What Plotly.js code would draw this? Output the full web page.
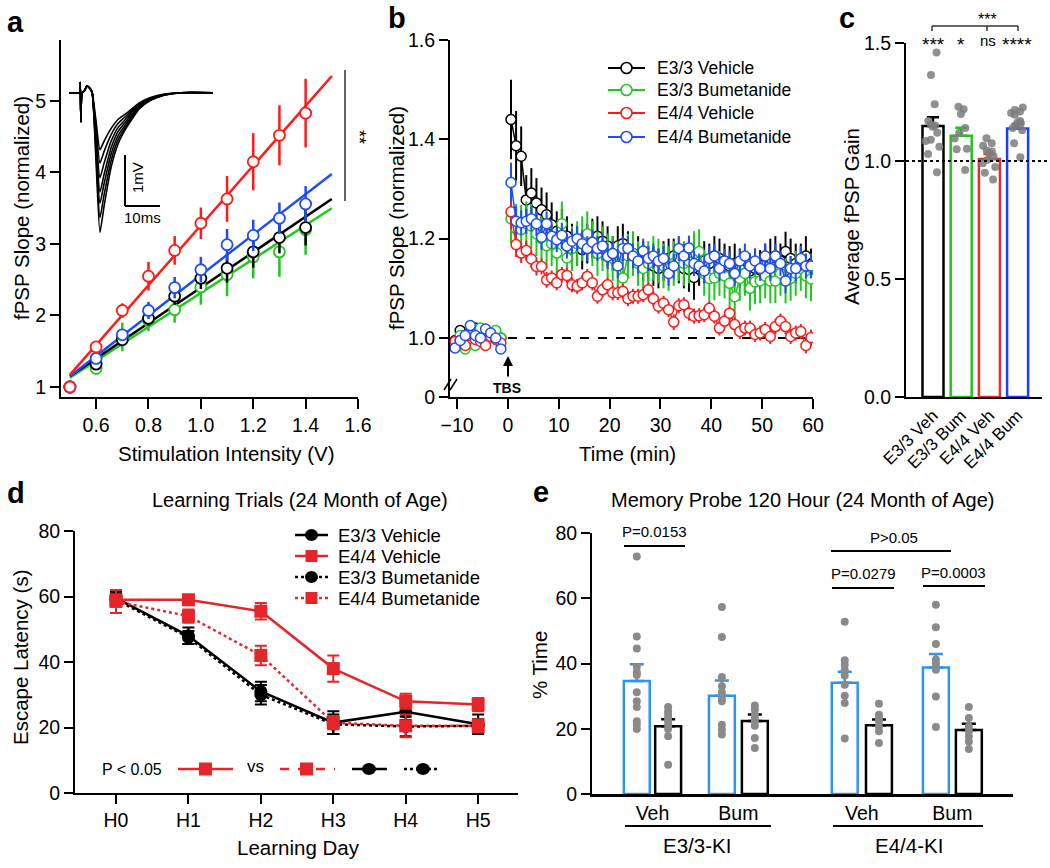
<!DOCTYPE html>
<html><head><meta charset="utf-8">
<script src="https://cdn.plot.ly/plotly-3.0.1.min.js"></script>
<style>html,body{margin:0;padding:0;background:#fff}#chart{width:1050px;height:868px}</style>
</head><body><div id="chart"></div>
<script>
// ================= DATA =================
// ---- Panel a: input/output ----
const stimV = [0.5,0.6,0.7,0.8,0.9,1.0,1.1,1.2,1.3,1.4];
const aE33Veh    = [1.0,1.32,1.66,1.96,2.27,2.52,2.66,2.89,3.09,3.23];
const aE33VehErr = [0,0.05,0.08,0.10,0.12,0.15,0.20,0.22,0.22,0.25];
const aE33Bum    = [1.0,1.26,1.70,1.93,2.08,2.40,2.57,2.82,2.89,3.20];
const aE33BumErr = [0,0.05,0.20,0.15,0.18,0.25,0.30,0.30,0.35,0.35];
const aE44Veh    = [1.0,1.56,2.07,2.55,2.91,3.29,3.63,4.15,4.52,4.83];
const aE44VehErr = [0,0.05,0.10,0.20,0.20,0.22,0.32,0.40,0.42,0.48];
const aE44Bum    = [1.0,1.40,1.73,2.07,2.39,2.64,2.99,3.12,3.36,3.56];
const aE44BumErr = [0,0.05,0.08,0.12,0.15,0.18,0.22,0.22,0.22,0.25];
const fitV = [0.5, 1.5];
const fitE33Veh = [1.15, 3.63];
const fitE33Bum = [1.13, 3.50];
const fitE44Veh = [1.17, 5.35];
const fitE44Bum = [1.15, 3.98];
// inset fEPSP sweeps (ms, mV)
const insetT = [0,3.0,3.2,3.4,3.7,4.5,5.1,6.0,6.6,7.6,8.8,10,12,14,16.4,20,23,27,32,41];
const sweep1 = [0,0,0.2,-0.57,0,0.05,0.13,0.08,0,-0.50,-1.12,-0.95,-0.70,-0.52,-0.40,-0.20,-0.10,-0.03,0,0];
const sweep2 = [0,0,0.2,-0.57,0,0.05,0.13,0.08,0,-0.60,-1.38,-1.15,-0.82,-0.60,-0.45,-0.22,-0.11,-0.03,0,0];
const sweep3 = [0,0,0.2,-0.57,0,0.05,0.13,0.08,0,-0.72,-1.67,-1.38,-0.95,-0.68,-0.50,-0.24,-0.12,-0.04,0,0];
const sweep4 = [0,0,0.2,-0.57,0,0.05,0.13,0.08,0,-0.85,-1.95,-1.60,-1.08,-0.76,-0.55,-0.26,-0.13,-0.04,0,0];
const sweep5 = [0,0,0.2,-0.57,0,0.05,0.13,0.08,0,-0.95,-2.17,-1.78,-1.20,-0.84,-0.60,-0.28,-0.14,-0.05,0,0];
const sweep6 = [0,0,0.2,-0.57,0,0.05,0.13,0.08,0,-1.07,-2.45,-2.00,-1.33,-0.92,-0.64,-0.30,-0.15,-0.05,0,0];
const sweep7 = [0,0,0.2,-0.57,0,0.05,0.13,0.08,0,-1.20,-2.74,-2.22,-1.46,-1.00,-0.68,-0.32,-0.16,-0.05,0,0];

// ---- Panel b: LTP time course ----
const bNames = ['E3/3 Vehicle','E3/3 Bumetanide','E4/4 Vehicle','E4/4 Bumetanide'];
const tPre = [-10.4,-9.4,-8.4,-7.4,-6.4,-5.4,-4.4,-3.4,-2.4,-1.4];
const tPost = [0.6,1.6,2.6,3.6,4.6,5.6,6.6,7.6,8.6,9.6,10.6,11.6,12.6,13.6,14.6,15.6,16.6,17.6,18.6,19.6,
  20.6,21.6,22.6,23.6,24.6,25.6,26.6,27.6,28.6,29.6,30.6,31.6,32.6,33.6,34.6,35.6,36.6,37.6,38.6,39.6,
  40.6,41.6,42.6,43.6,44.6,45.6,46.6,47.6,48.6,49.6,50.6,51.6,52.6,53.6,54.6,55.6,56.6,57.6,58.6,59.6];
const bE33VehPre = [0.995,1.015,1.005,1.01,1.02,1.005,1.0,1.01,1.005,1.0];
const bE33BumPre = [0.99,1.005,0.978,1.01,0.985,1.02,1.0,1.005,1.015,1.0];
const bE44VehPre = [0.993,0.995,0.985,1.005,0.997,0.993,0.985,1.003,0.997,0.99];
const bE44BumPre = [0.98,0.995,1.005,1.025,1.005,1.0,1.018,1.01,1.0,0.978];
const bPreErr = [0.008,0.008,0.008,0.008,0.008,0.008,0.008,0.008,0.008,0.008];
const bE33VehPost = [1.44,1.387,1.366,1.278,1.292,1.272,1.258,1.248,1.228,1.215,
  1.22,1.205,1.19,1.185,1.178,1.19,1.2,1.205,1.195,1.185,
  1.17,1.185,1.19,1.18,1.17,1.165,1.155,1.15,1.145,1.14,
  1.155,1.16,1.165,1.15,1.14,1.138,1.122,1.145,1.155,1.15,
  1.165,1.16,1.155,1.145,1.15,1.14,1.13,1.135,1.14,1.137,
  1.15,1.16,1.165,1.155,1.174,1.16,1.15,1.155,1.165,1.14];
const bE33VehPostErr = [0.08,0.07,0.06,0.05,0.05,0.05,0.045,0.045,0.045,0.04,
  0.04,0.04,0.04,0.04,0.04,0.04,0.04,0.04,0.04,0.04,
  0.035,0.04,0.04,0.035,0.035,0.04,0.04,0.035,0.04,0.04,
  0.04,0.04,0.035,0.04,0.04,0.045,0.045,0.04,0.04,0.04,
  0.04,0.04,0.035,0.04,0.04,0.04,0.04,0.035,0.04,0.04,
  0.04,0.04,0.04,0.035,0.04,0.04,0.04,0.035,0.04,0.04];
const bE33BumPost = [1.24,1.22,1.218,1.23,1.225,1.21,1.2,1.186,1.19,1.171,
  1.23,1.161,1.18,1.19,1.2,1.21,1.19,1.17,1.18,1.165,
  1.16,1.15,1.121,1.165,1.17,1.15,1.14,1.15,1.16,1.155,
  1.145,1.14,1.15,1.16,1.15,1.155,1.17,1.174,1.13,1.12,
  1.121,1.13,1.125,1.11,1.083,1.12,1.13,1.10,1.113,1.115,
  1.125,1.115,1.115,1.13,1.115,1.12,1.13,1.14,1.125,1.119];
const bE33BumPostErr = [0.05,0.05,0.05,0.045,0.045,0.045,0.045,0.045,0.045,0.045,
  0.045,0.045,0.045,0.045,0.045,0.045,0.045,0.045,0.045,0.045,
  0.045,0.045,0.04,0.045,0.045,0.045,0.045,0.045,0.045,0.045,
  0.045,0.045,0.045,0.045,0.045,0.045,0.045,0.045,0.045,0.045,
  0.045,0.045,0.045,0.045,0.045,0.045,0.045,0.045,0.045,0.045,
  0.045,0.045,0.045,0.045,0.045,0.045,0.045,0.045,0.045,0.045];
const bE44VehPost = [1.254,1.188,1.171,1.176,1.159,1.144,1.144,1.117,1.121,1.111,
  1.128,1.126,1.107,1.104,1.111,1.124,1.111,1.084,1.097,1.107,
  1.091,1.091,1.094,1.079,1.084,1.084,1.087,1.097,1.079,1.064,
  1.07,1.057,1.032,1.065,1.067,1.05,1.044,1.045,1.047,1.06,
  1.044,1.02,1.034,1.05,1.027,1.013,1.02,1.02,1.007,1.01,
  1.017,1.003,1.023,1.034,1.023,1.003,1.01,1.013,0.985,1.001];
const bE44VehPostErr = [0.035,0.025,0.02,0.02,0.018,0.018,0.016,0.016,0.015,0.015,
  0.015,0.015,0.015,0.015,0.015,0.015,0.015,0.015,0.015,0.015,
  0.015,0.015,0.015,0.015,0.015,0.015,0.015,0.015,0.015,0.015,
  0.015,0.015,0.016,0.015,0.015,0.015,0.015,0.015,0.015,0.015,
  0.015,0.015,0.015,0.015,0.015,0.015,0.015,0.015,0.015,0.015,
  0.015,0.015,0.015,0.015,0.015,0.015,0.015,0.015,0.016,0.016];
const bE44BumPost = [1.313,1.235,1.232,1.235,1.24,1.23,1.203,1.23,1.205,1.198,
  1.207,1.185,1.195,1.2,1.19,1.18,1.193,1.18,1.185,1.164,
  1.17,1.145,1.18,1.18,1.165,1.155,1.175,1.16,1.165,1.155,
  1.16,1.13,1.145,1.18,1.165,1.181,1.15,1.145,1.135,1.16,
  1.165,1.14,1.155,1.15,1.13,1.155,1.165,1.145,1.155,1.14,
  1.165,1.14,1.165,1.15,1.115,1.14,1.14,1.16,1.145,1.145];
const bE44BumPostErr = [0.04,0.03,0.025,0.025,0.025,0.025,0.025,0.025,0.025,0.025,
  0.025,0.025,0.025,0.025,0.025,0.025,0.025,0.025,0.025,0.025,
  0.025,0.025,0.025,0.025,0.025,0.025,0.025,0.025,0.025,0.025,
  0.025,0.025,0.025,0.025,0.025,0.025,0.025,0.025,0.025,0.025,
  0.025,0.025,0.025,0.025,0.025,0.025,0.025,0.025,0.025,0.025,
  0.025,0.025,0.025,0.025,0.025,0.025,0.025,0.025,0.025,0.025];

// ---- Panel c: average fPSP gain ----
const cGroups = ['E3/3 Veh','E3/3 Bum','E4/4 Veh','E4/4 Bum'];
const cMeans = [1.148, 1.107, 1.008, 1.138];
const cSEM   = [0.037, 0.034, 0.022, 0.019];
const cDotsE33Veh = [1.46,1.364,1.24,1.17,1.155,1.15,1.145,1.12,1.09,1.085,1.06,1.03,0.952];
const cDotsE33Bum = [1.23,1.219,1.199,1.14,1.12,1.095,1.052,1.05,0.962];
const cDotsE44Veh = [1.096,1.075,1.065,1.045,1.04,1.035,1.02,1.005,0.99,0.975,0.95,0.922];
const cDotsE44Bum = [1.227,1.216,1.21,1.203,1.196,1.17,1.162,1.16,1.15,1.14,1.13,1.075,1.016];
const cSig = ['***','*','ns','****'];

// ---- Panel d: learning trials ----
const dDays = ['H0','H1','H2','H3','H4','H5'];
const dNames = ['E3/3 Vehicle','E4/4 Vehicle','E3/3 Bumetanide','E4/4 Bumetanide'];
const dE33Veh    = [59.5,48,31,21.5,24.8,21];
const dE33VehErr = [2,2.5,3,3.5,2.5,3];
const dE44Veh    = [59,59,55.5,38,28,27];
const dE44VehErr = [1,1.2,2.5,4,2.3,2];
const dE33Bum    = [59,47.5,30,21,20.3,20.5];
const dE33BumErr = [2,2,3,3,3,2];
const dE44Bum    = [58.5,54,42,21.5,20.5,20.5];
const dE44BumErr = [3.5,2,3,2,3.5,2];

// ---- Panel e: memory probe ----
const eGroups = ['Veh','Bum','Veh','Bum'];
const eGenotypes = ['E3/3-KI','E4/4-KI'];
const eTarget    = [34.6,30.1,34.1,38.8];
const eTargetSEM = [5.2,4.7,3.4,4.1];
const eOther     = [20.8,22.4,21.1,19.6];
const eOtherSEM  = [2.1,2.0,1.7,1.9];
const eDotsE33VehT = [72.8,48.3,44.6,38.9,37.3,36.5,31.2,28.4,26.7,22.3,21.2,19.9];
const eDotsE33VehO = [26.7,25.3,24.3,23.3,22.3,21.2,19.9,17.7,9.0];
const eDotsE33BumT = [57.3,48.1,35.9,33.0,31.2,29.1,28.4,21.2,19.7,18.2];
const eDotsE33BumO = [27.1,26.0,24.3,23.3,22.3,20.9,17.2,14.1];
const eDotsE44VehT = [52.8,41.0,39.6,37.9,36.3,33.5,30.1,27.9,17.0];
const eDotsE44VehO = [27.7,24.3,23.3,22.3,20.7,19.2,15.6];
const eDotsE44BumT = [58.0,51.1,46.0,41.2,40.0,38.1,29.9,20.5];
const eDotsE44BumO = [26.7,23.3,20.7,19.2,17.7,16.1,13.8];
const ePvals = ['P=0.0153','P>0.05','P=0.0279','P=0.0003'];

// ================= LAYOUT HELPERS =================
const W = 1050, H = 868;
const F = 'Liberation Sans, Arial, Helvetica, sans-serif';
const X = v => v / W;
const Y = v => 1 - v / H;
const dX = (a, b) => [a / W, b / W];
const dY = (top, bot) => [1 - bot / H, 1 - top / H];
const COL = {black:'#000000', green:'#1ec81e', red:'#ff1a1a', blue:'#1f4cf5',
             cGreen:'#22c422', cRed:'#ef2a2a', cBlue:'#1c3ff5',
             dRed:'#e4262b', eBlue:'#2b95f0', gray:'#8a8a8a'};
const cPos = [1,2,3,4];
const eTargetPos = [1.40,4.06,7.90,10.75];
const eOtherPos  = [2.38,5.09,8.97,11.78];

const axBase = {showline:true, linecolor:'black', linewidth:2, ticks:'outside', ticklen:9,
  tickwidth:2, tickcolor:'black', tickfont:{family:F, size:19.5, color:'black'},
  showgrid:false, zeroline:false, fixedrange:true};

const traces = [];
// ---------- Panel a ----------
const aSeries = [
  [fitE33Bum, aE33Bum, aE33BumErr, COL.green],
  [fitE33Veh, aE33Veh, aE33VehErr, COL.black],
  [fitE44Bum, aE44Bum, aE44BumErr, COL.blue],
  [fitE44Veh, aE44Veh, aE44VehErr, COL.red]];
aSeries.forEach(s => traces.push({type:'scatter', mode:'lines', x:fitV, y:s[0], xaxis:'x', yaxis:'y',
  line:{color:s[3], width:2.5}, showlegend:false, hoverinfo:'skip'}));
aSeries.forEach(s => traces.push({type:'scatter', mode:'markers', x:stimV, y:s[1], xaxis:'x', yaxis:'y',
  marker:{symbol:'circle', size:11, color:'white', line:{color:s[3], width:1.8}},
  error_y:{type:'data', array:s[2], width:0, thickness:2.5, color:s[3]}, showlegend:false}));
[sweep1,sweep2,sweep3,sweep4,sweep5,sweep6,sweep7].forEach(sw => traces.push({type:'scatter', mode:'lines',
  x:insetT, y:sw, xaxis:'x2', yaxis:'y2', line:{color:'black', width:1.6, shape:'spline', smoothing:0.5},
  showlegend:false, hoverinfo:'skip'}));

// ---------- Panel b ----------
const bColors = [COL.black, COL.green, COL.red, COL.blue];
const bSeries = [
  [bE33VehPre, bE33VehPost, bE33VehPostErr],
  [bE33BumPre, bE33BumPost, bE33BumPostErr],
  [bE44VehPre, bE44VehPost, bE44VehPostErr],
  [bE44BumPre, bE44BumPost, bE44BumPostErr]];
bSeries.forEach((s, i) => {
  const mk = {symbol:'circle', size:10, color:'white', line:{color:bColors[i], width:1.5}};
  traces.push({type:'scatter', mode:'lines+markers', x:tPre, y:s[0], xaxis:'x3', yaxis:'y3',
    line:{color:bColors[i], width:1.5}, marker:mk,
    error_y:{type:'data', array:bPreErr, width:0, thickness:2, color:bColors[i]}, showlegend:false});
  traces.push({type:'scatter', mode:'lines+markers', name:bNames[i], x:tPost, y:s[1], xaxis:'x3', yaxis:'y3',
    line:{color:bColors[i], width:1.5}, marker:mk,
    error_y:{type:'data', array:s[2], width:0, thickness:2, color:bColors[i]}, showlegend:false});
});

// ---------- Panel c ----------
const cColors = [COL.black, COL.cGreen, COL.cRed, COL.cBlue];
cGroups.forEach((g, i) => traces.push({type:'bar', name:g, x:[cPos[i]], y:[cMeans[i]], xaxis:'x4', yaxis:'y4',
  width:0.745, marker:{color:'white', line:{color:cColors[i], width:2.5}},
  error_y:{type:'data', symmetric:false, array:[cSEM[i]], arrayminus:[0], width:6, thickness:2.5, color:cColors[i]},
  showlegend:false}));
[cDotsE33Veh, cDotsE33Bum, cDotsE44Veh, cDotsE44Bum].forEach((d, i) => traces.push({type:'box',
  y:d, x0:cPos[i], xaxis:'x4', yaxis:'y4', boxpoints:'all', jitter:0.9, pointpos:0, width:0.7,
  fillcolor:'rgba(0,0,0,0)', line:{color:'rgba(0,0,0,0)', width:0},
  marker:{color:'rgba(125,125,125,0.85)', size:8}, showlegend:false, hoveron:'points'}));

// ---------- Panel d ----------
const dXv = dDays.map((d, i) => i);
const dSeries = [
  [dE33Veh, dE33VehErr, 'black', 'solid', 'circle'],
  [dE33Bum, dE33BumErr, 'black', 'dot', 'circle'],
  [dE44Bum, dE44BumErr, COL.dRed, 'dot', 'square'],
  [dE44Veh, dE44VehErr, COL.dRed, 'solid', 'square']];
dSeries.forEach(s => traces.push({type:'scatter', mode:'lines+markers', x:dXv, y:s[0],
  xaxis:'x5', yaxis:'y5', line:{color:s[2], width:2.5, dash:s[3]},
  marker:{symbol:s[4], size:13, color:s[2]},
  error_y:{type:'data', array:s[1], width:6, thickness:2, color:s[2]}, showlegend:false}));

// ---------- Panel e ----------
traces.push({type:'bar', x:eTargetPos, y:eTarget, xaxis:'x6', yaxis:'y6', width:0.81,
  marker:{color:'white', line:{color:COL.eBlue, width:2.5}},
  error_y:{type:'data', symmetric:false, array:eTargetSEM, arrayminus:eTargetSEM.map(() => 0), width:7, thickness:2.5, color:COL.eBlue},
  showlegend:false});
traces.push({type:'bar', x:eOtherPos, y:eOther, xaxis:'x6', yaxis:'y6', width:0.81,
  marker:{color:'white', line:{color:'black', width:2.5}},
  error_y:{type:'data', symmetric:false, array:eOtherSEM, arrayminus:eOtherSEM.map(() => 0), width:7, thickness:2.5, color:'black'},
  showlegend:false});
const eDotSets = [[eDotsE33VehT, eTargetPos[0]], [eDotsE33VehO, eOtherPos[0]], [eDotsE33BumT, eTargetPos[1]],
  [eDotsE33BumO, eOtherPos[1]], [eDotsE44VehT, eTargetPos[2]], [eDotsE44VehO, eOtherPos[2]],
  [eDotsE44BumT, eTargetPos[3]], [eDotsE44BumO, eOtherPos[3]]];
eDotSets.forEach(s => traces.push({type:'scatter', mode:'markers', x:s[0].map(() => s[1]), y:s[0],
  xaxis:'x6', yaxis:'y6', marker:{color:COL.gray, size:8}, showlegend:false}));

// ================= SHAPES & ANNOTATIONS =================
const shapes = [];
const annotations = [];
const seg = (x0, y0, x1, y1, color, width, dash) => shapes.push({type:'line', xref:'paper', yref:'paper',
  x0:X(x0), y0:Y(y0), x1:X(x1), y1:Y(y1), line:{color:color || 'black', width:width || 2, dash:dash || 'solid'}});
const txt = (text, x, y, size, opt) => annotations.push(Object.assign({text:text, x:X(x), y:Y(y),
  xref:'paper', yref:'paper', showarrow:false, xanchor:'center', yanchor:'middle',
  font:{family:F, size:size, color:'black'}}, opt || {}));
const circ = (cx, cy, rx, ry, fill, stroke, lw) => shapes.push({type:'circle', xref:'paper', yref:'paper',
  x0:X(cx - rx), x1:X(cx + rx), y0:Y(cy + ry), y1:Y(cy - ry), fillcolor:fill, line:{color:stroke, width:lw}});
const rect = (cx, cy, r, fill) => shapes.push({type:'rect', xref:'paper', yref:'paper',
  x0:X(cx - r), x1:X(cx + r), y0:Y(cy + r), y1:Y(cy - r), fillcolor:fill, line:{width:0}});

// panel letters
txt('<b>a</b>', 15, 22, 29); txt('<b>b</b>', 397, 18, 29); txt('<b>c</b>', 847, 18, 29);
txt('<b>d</b>', 16, 493, 29); txt('<b>e</b>', 541, 492, 29);

// panel a
txt('fPSP Slope (normalized)', 22, 208, 20.5, {textangle:-90});
txt('Stimulation Intensity (V)', 226, 453, 20.5);
seg(345, 70, 345, 201, '#333', 1.5);
txt('**', 359, 137, 18, {textangle:90});
seg(125, 155, 125, 206, 'black', 2); seg(125, 206, 160, 206, 'black', 2);
txt('1mV', 138, 178, 15, {textangle:-90});
txt('10ms', 142, 218, 15);

// panel b
txt('fPSP Slope (normalized)', 397, 218, 20.5, {textangle:-90});
txt('Time (min)', 627, 453, 20.5);
shapes.push({type:'line', xref:'x3', yref:'y3', x0:0, x1:60, y0:1, y1:1, layer:'below',
  line:{color:'black', width:2, dash:'dash'}});
annotations.push({x:X(508), y:Y(356), xref:'paper', yref:'paper', text:'', showarrow:true,
  ax:0, ay:22, arrowhead:2, arrowsize:1, arrowwidth:2, arrowcolor:'black'});
txt('<b>TBS</b>', 507, 388, 14);
seg(444, 390, 451, 379, 'black', 1.5); seg(450, 390, 457, 379, 'black', 1.5);
// panel b legend
const bLegY = [68, 90, 113, 137];
bNames.forEach((n, i) => {
  seg(608, bLegY[i], 645, bLegY[i], bColors[i], 1.8);
  circ(626.5, bLegY[i], 5.5, 5.5, 'white', bColors[i], 1.6);
  txt(n, 655, bLegY[i], 17.5, {xanchor:'left'});
});

// panel c
txt('Average fPSP Gain', 851, 217, 20.5, {textangle:-90});
shapes.push({type:'line', xref:'paper', yref:'y4', x0:X(906), x1:X(1048), y0:1, y1:1,
  line:{color:'black', width:2, dash:'dot'}});
seg(932, 26, 1018, 26, '#333', 1.5); seg(932, 26, 932, 31, '#333', 1.5);
seg(987, 26, 987, 31, '#333', 1.5); seg(1018, 26, 1018, 31, '#333', 1.5);
txt('***', 987, 19, 16);
const cSigX = [933, 961, 988, 1017];
cSig.forEach((s, i) => txt(s, cSigX[i], s === 'ns' ? 41 : 45, s === 'ns' ? 15 : 19));

// panel d
txt('Learning Trials (24 Month of Age)', 300, 500, 20);
txt('Escape Latency (s)', 20, 658, 20.5, {textangle:-90});
txt('Learning Day', 298, 847, 20.5);
// panel d legend
const dLegY = [535, 556, 577, 598];
const dLegStyle = [['black','solid','c'], [COL.dRed,'solid','s'], ['black','dot','c'], [COL.dRed,'dot','s']];
dNames.forEach((n, i) => {
  const st = dLegStyle[i];
  seg(295, dLegY[i], 328, dLegY[i], st[0], 2.5, st[1]);
  if (st[2] === 'c') circ(311.5, dLegY[i], 6.5, 6, st[0], st[0], 0); else rect(311.5, dLegY[i], 6, st[0]);
  txt(n, 336, dLegY[i], 18.5, {xanchor:'left'});
});
txt('P < 0.05', 132, 769, 16);
seg(178, 769, 233, 769, COL.dRed, 2.5); rect(205.5, 769, 6.5, COL.dRed);
txt('vs', 255, 766, 17);
seg(280, 769, 335, 769, COL.dRed, 2.5, 'dash'); rect(306.5, 769, 6.5, COL.dRed);
seg(352, 769, 387, 769, 'black', 2.5); circ(369, 769, 7, 6, 'black', 'black', 0);
seg(404, 769, 437, 769, 'black', 2.5, 'dot'); circ(423, 769, 7, 6, 'black', 'black', 0);

// panel e
txt('Memory Probe 120 Hour (24 Month of Age)', 803, 500, 20);
txt('% Time', 539, 665, 20.5, {textangle:-90});
txt(ePvals[0], 654, 531, 15); seg(624, 546, 685, 546, 'black', 2);
txt(ePvals[1], 894, 537, 15); seg(831, 551, 951, 551, 'black', 2);
txt(ePvals[2], 863, 573, 15); seg(832, 588, 894, 588, 'black', 2);
txt(ePvals[3], 953, 572, 15); seg(923, 586, 985, 586, 'black', 2);
seg(625, 826, 771, 826, 'black', 2); seg(833, 826, 983, 826, 'black', 2);
txt(eGenotypes[0], 697, 845, 20.5); txt(eGenotypes[1], 909, 845, 20.5);

// ================= LAYOUT =================
const layout = {
  width:W, height:H, margin:{l:0, r:0, t:0, b:0}, paper_bgcolor:'white', plot_bgcolor:'rgba(0,0,0,0)',
  font:{family:F, color:'black'}, barmode:'overlay', boxmode:'overlay', hovermode:false, showlegend:false,
  xaxis: Object.assign({}, axBase, {domain:dX(61,358), range:[0.466,1.6], tickvals:[0.6,0.8,1.0,1.2,1.4,1.6], tickformat:'.1f', ticklen:10, anchor:'y'}),
  yaxis: Object.assign({}, axBase, {domain:dY(40,397), range:[0.86,5.853], tickvals:[1,2,3,4,5], anchor:'x'}),
  xaxis2: {visible:false, domain:dX(69,213), range:[0,41], anchor:'y2', fixedrange:true},
  yaxis2: {visible:false, domain:dY(78,235), range:[-2.79,0.288], anchor:'x2', fixedrange:true},
  xaxis3: Object.assign({}, axBase, {domain:dX(450,813), range:[-11.4,60], tickvals:[-10,0,10,20,30,40,50,60], ticklen:10, anchor:'y3'}),
  yaxis3: Object.assign({}, axBase, {domain:dY(40,397), range:[0.8812,1.6], tickvals:[0.8812,1.0,1.2,1.4,1.6], ticktext:['0','1.0','1.2','1.4','1.6'], anchor:'x3'}),
  xaxis4: Object.assign({}, axBase, {domain:dX(906,1042), range:[0.043,4.865], tickvals:cPos, ticktext:cGroups, ticks:'', tickangle:-45, tickfont:{family:F, size:17, color:'black'}, anchor:'y4'}),
  yaxis4: Object.assign({}, axBase, {domain:dY(43,397), range:[0,1.5], tickvals:[0,0.5,1.0,1.5], tickformat:'.1f', anchor:'x4'}),
  xaxis5: Object.assign({}, axBase, {domain:dX(75,518), range:[-0.566,5.55], tickvals:dXv, ticktext:dDays, anchor:'y5'}),
  yaxis5: Object.assign({}, axBase, {domain:dY(531,793), range:[0,80], tickvals:[0,20,40,60,80], anchor:'x5'}),
  xaxis6: Object.assign({}, axBase, {domain:dX(592,1013), range:[0,13.16], linewidth:2.5,
    tickvals:eTargetPos.map((p, i) => (p + eOtherPos[i]) / 2), ticktext:eGroups, ticks:'', anchor:'y6'}),
  yaxis6: Object.assign({}, axBase, {domain:dY(533,794), range:[0,80], tickvals:[0,20,40,60,80], anchor:'x6'}),
  shapes: shapes, annotations: annotations
};

Plotly.newPlot('chart', traces, layout, {staticPlot:true, displayModeBar:false});
</script></body></html>
